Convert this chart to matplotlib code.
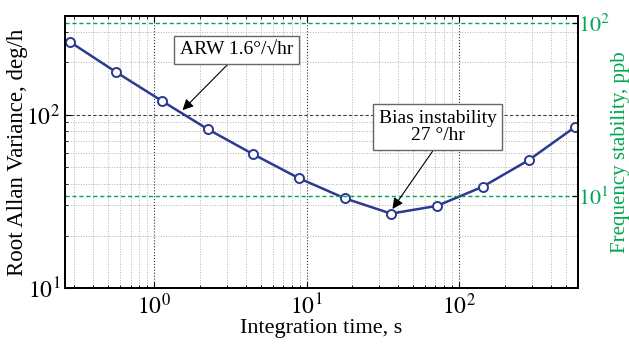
import numpy as np
import matplotlib
matplotlib.use('Agg')
import matplotlib.pyplot as plt
from matplotlib.ticker import LogLocator, FuncFormatter, NullFormatter

plt.rcParams['font.family'] = ['Liberation Serif', 'DejaVu Serif']
plt.rcParams['mathtext.fontset'] = 'stix'

# Allan deviation data
tau = [0.28, 0.56, 1.12, 2.24, 4.48, 8.96, 17.9, 35.8, 71.7, 143, 287, 573]
adev = [262, 176, 120, 82.5, 59, 42.9, 32.9, 26.9, 29.8, 38.4, 54.7, 84.4]

arw_text = 'ARW 1.6°/√hr'
bias_text = 'Bias instability\n27 °/hr'

blue = '#2b3990'
green = '#00a651'

fig = plt.figure(figsize=(6.29, 3.44), dpi=100)
ax = fig.add_axes([0.1033, 0.162, 0.815, 0.792])

ax.set_xscale('log')
ax.set_yscale('log')
ax.set_xlim(0.26, 600)
ax.set_ylim(10, 370)

# grid, matlab style
ax.xaxis.set_minor_locator(LogLocator(base=10, subs=np.arange(2, 10)))
ax.yaxis.set_minor_locator(LogLocator(base=10, subs=np.arange(2, 10)))
ax.grid(which='minor', linestyle=':', color='0.7', linewidth=0.7)
ax.grid(which='major', axis='x', linestyle=':', color='0.2', linewidth=0.8)
ax.grid(which='major', axis='y', linestyle=(0, (3, 2)), color='0.25', linewidth=0.8)

def sci(v, pos):
    return r'$10^{%d}$' % int(round(np.log10(v)))

ax.xaxis.set_major_formatter(FuncFormatter(sci))
ax.yaxis.set_major_formatter(FuncFormatter(sci))
ax.xaxis.set_minor_formatter(NullFormatter())
ax.yaxis.set_minor_formatter(NullFormatter())
ax.tick_params(which='both', direction='in', top=True, labelsize=17)
ax.tick_params(which='major', length=4)
ax.tick_params(which='minor', length=2)
ax.tick_params(axis='x', pad=4)
for s in ax.spines.values():
    s.set_linewidth(1.3)

ax.plot(tau, adev, '-o', color=blue, lw=1.8, markersize=6.5,
        markerfacecolor='white', markeredgewidth=1.4, zorder=5)

ax.set_xlabel('Integration time, s', fontsize=16)
ax.set_ylabel('Root Allan Variance, deg/h', fontsize=16.5)
ax.xaxis.set_label_coords(0.5, -0.112)
ax.yaxis.set_label_coords(-0.072, 0.5)

# right axis, frequency stability
ax2 = ax.twinx()
ax2.set_yscale('log')
ax2.set_ylim(2.95, 110)
ax2.yaxis.set_major_formatter(FuncFormatter(sci))
ax2.yaxis.set_minor_formatter(NullFormatter())
ax2.yaxis.set_minor_locator(LogLocator(base=10, subs=[]))
ax2.tick_params(which='both', direction='in', labelsize=16, labelcolor=green,
                length=4, pad=0)
ax2.grid(which='major', axis='y', linestyle=(0, (3, 2)), color=green, linewidth=1.0)
ax2.set_ylabel('Frequency stability, ppb', fontsize=15, color=green)
ax2.yaxis.set_label_coords(1.066, 0.5)
for s in ax2.spines.values():
    s.set_linewidth(1.3)

box = dict(boxstyle='square,pad=0.3', facecolor='white', edgecolor='0.4', linewidth=1.0)
arrow = dict(arrowstyle='-|>', color='black', lw=0.8, mutation_scale=16, shrinkA=0, shrinkB=0)

ax2.annotate(arw_text, xy=(1.535, 106), xytext=(3.49, 235), xycoords=ax.transData,
             textcoords=ax.transData, fontsize=14, ha='center', va='center',
             bbox=box, arrowprops=dict(arrow, relpos=(0.47, 0)), zorder=10)
ax2.annotate(bias_text, xy=(36.6, 28.6), xytext=(72.4, 84.8), xycoords=ax.transData,
             textcoords=ax.transData, fontsize=14, ha='center', va='center',
             multialignment='center', linespacing=1.0,
             bbox=box, arrowprops=dict(arrow, relpos=(0.5, 0)), zorder=10)

fig.savefig('out.png', dpi=100)
